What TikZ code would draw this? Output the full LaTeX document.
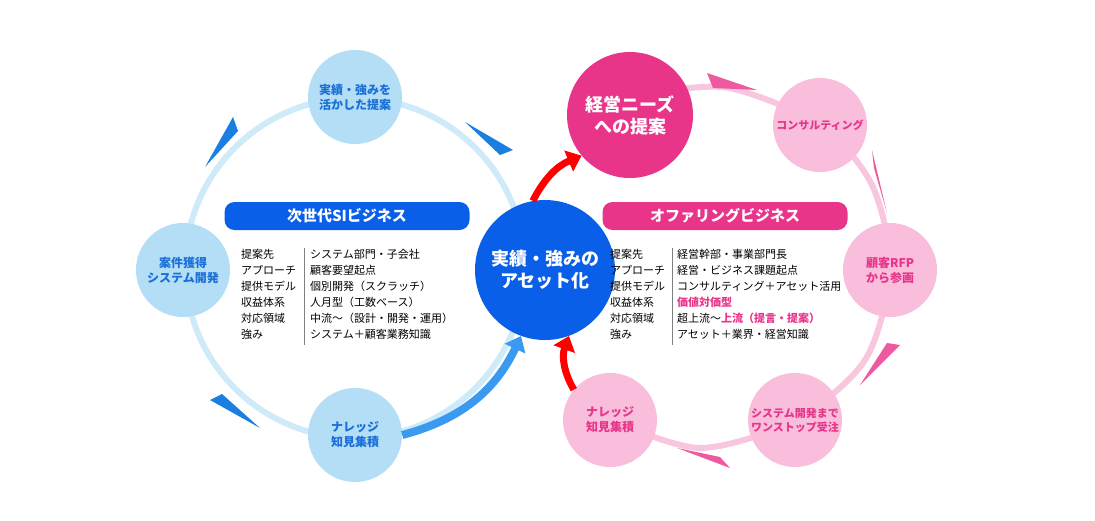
\documentclass[tikz,border=0pt]{standalone}
\usepackage{fontspec}
\setmainfont{Noto Sans CJK JP}
\usetikzlibrary{arrows.meta}
\definecolor{siblue}{HTML}{0A5FE8}
\definecolor{ringblue}{HTML}{CFEAF9}
\definecolor{nodeblue}{HTML}{B4DDF6}
\definecolor{textblue}{HTML}{1A6FD8}
\definecolor{wedgeblue}{HTML}{1A7FE0}
\definecolor{arrowblue}{HTML}{3A9AF0}
\definecolor{ofpink}{HTML}{E8358A}
\definecolor{ringpink}{HTML}{F9C6DF}
\definecolor{nodepink}{HTML}{F8BEDB}
\definecolor{wedgepink}{HTML}{EE5AA0}
\tikzset{
  stage/.style={circle, minimum size=94pt, inner sep=0pt, align=center, font=\fontsize{12}{15}\selectfont\bfseries},
  bluestage/.style={stage, fill=nodeblue, text=textblue},
  pinkstage/.style={stage, fill=nodepink, text=ofpink},
  banner/.style={rounded corners=10pt, minimum width=245pt, minimum height=28pt, text=white, font=\fontsize{15}{18}\selectfont\bfseries},
  row/.style={anchor=base west, font=\fontsize{11}{13}\selectfont, inner sep=0pt},
}
\begin{document}
\begin{tikzpicture}[x=1pt, y=-1pt]
    \useasboundingbox (0,0) rectangle (1095,520);
    % rings
    \draw[ringblue, line width=6pt] (355,268) circle [radius=170];
    \draw[ringpink, line width=6pt] plot[smooth] coordinates {(660,92) (730,88) (820,125) (872,185) (890,270) (865,360) (795,420) (700,448) (610,420)};
    % wedges
    \fill[wedgeblue] (233,117)--(238,131)--(205,167)--cycle;
    \fill[wedgeblue] (465,122)--(513,150)--(500,155)--cycle;
    \fill[wedgeblue] (210,400)--(222,394)--(260,428)--cycle;
    \fill[wedgepink] (707,73)--(713,88)--(757,90)--cycle;
    \fill[wedgepink] (872,150)--(874,168)--(887,213)--cycle;
    \fill[wedgepink] (887,343)--(900,345)--(860,385)--cycle;
    \fill[wedgepink] (677,448)--(720,457)--(730,468)--cycle;
    % nodes
    \node[bluestage] (propose) at (355,97) {実績・強みを\\活かした提案};
    \node[bluestage] (develop) at (183,270) {案件獲得\\システム開発};
    \node[bluestage] (knowL) at (355,435) {ナレッジ\\知見集積};
    \node[stage, minimum size=140pt, fill=siblue, text=white, font=\fontsize{18}{22}\selectfont\bfseries] (asset) at (545,270) {実績・強みの\\アセット化};
    \node[stage, minimum size=126pt, fill=ofpink, text=white, font=\fontsize{18}{22}\selectfont\bfseries] (needs) at (630,115) {経営ニーズ\\への提案};
    \node[pinkstage, font=\fontsize{11}{14}\selectfont\bfseries] (consult) at (820,125) {コンサルティング};
    \node[pinkstage] (rfp) at (890,270) {顧客RFP\\から参画};
    \node[pinkstage, font=\fontsize{11}{14}\selectfont\bfseries] (onestop) at (795,420) {システム開発まで\\ワンストップ受注};
    \node[pinkstage] (knowR) at (610,420) {ナレッジ\\知見集積};
    % connectors
    \draw[arrowblue, line width=8pt, -{Triangle[length=14pt, width=22pt]}] (knowL.east) to[bend right=25] (asset.250);
    \draw[red, line width=7pt, -{Triangle[length=14pt, width=22pt]}] (asset.100) to[bend left=20] (needs.220);
    \draw[red, line width=7pt, -{Triangle[length=14pt, width=22pt]}] (knowR.140) to[bend left=25] (asset.290);
    % banners
    \node[banner, fill=siblue] (siTitle) at (347,216) {次世代SIビジネス};
    \node[banner, fill=ofpink] (ofTitle) at (725,216) {オファリングビジネス};
    % tables
    \draw[gray] (304,248) -- (304,345);
    \draw[gray] (672,248) -- (672,345);
    \foreach \k/\a [count=\i] in {提案先/システム部門・子会社, アプローチ/顧客要望起点, 提供モデル/個別開発（スクラッチ）, 収益体系/人月型（工数ベース）, 対応領域/中流～（設計・開発・運用）, 強み/システム＋顧客業務知識} {
        \node[row] (lk\i) at (241,242+16*\i) {\k};
        \node[row] (lv\i) at (310,242+16*\i) {\a};
    }
    \foreach \k/\b [count=\i] in {提案先/経営幹部・事業部門長, アプローチ/経営・ビジネス課題起点, 提供モデル/コンサルティング＋アセット活用, 収益体系/{\color{ofpink}\bfseries 価値対価型}, 対応領域/{超上流～\color{ofpink}\bfseries 上流（提言・提案）}, 強み/アセット＋業界・経営知識} {
        \node[row] (rk\i) at (610,242+16*\i) {\k};
        \node[row] (rv\i) at (677,242+16*\i) {\b};
    }
\end{tikzpicture}
\end{document}
